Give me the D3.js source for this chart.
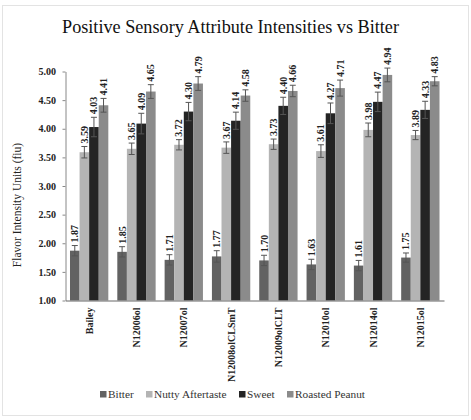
<!DOCTYPE html>
<html><head><meta charset="utf-8">
<script src="https://cdn.jsdelivr.net/npm/d3@7"></script>
<style>
html,body{margin:0;padding:0;background:#fff;}
svg{display:block;}
svg text{font-family:"Liberation Serif","Times New Roman",Times,"DejaVu Serif",serif;}
</style>
</head><body>
<svg id="chart" width="471" height="420"></svg>
<script>
const categories = ["Bailey","N12006ol","N12007ol","N12008olCLSmT","N12009olCLT","N12010ol","N12014ol","N12015ol"];
const seriesNames = ["Bitter","Nutty Aftertaste","Sweet","Roasted Peanut"];
const bitter  = [1.87,1.85,1.71,1.77,1.70,1.63,1.61,1.75];
const nutty   = [3.59,3.65,3.72,3.67,3.73,3.61,3.98,3.89];
const sweet   = [4.03,4.09,4.30,4.14,4.40,4.27,4.47,4.33];
const roasted = [4.41,4.65,4.79,4.58,4.66,4.71,4.94,4.83];
const bitterErr  = [0.09,0.09,0.09,0.10,0.09,0.09,0.09,0.08];
const nuttyErr   = [0.10,0.10,0.09,0.10,0.09,0.11,0.12,0.08];
const sweetErr   = [0.17,0.18,0.16,0.15,0.15,0.18,0.17,0.15];
const roastedErr = [0.12,0.12,0.12,0.10,0.10,0.14,0.12,0.08];
const yTicks = [1.0,1.5,2.0,2.5,3.0,3.5,4.0,4.5,5.0];
const colors = ["#626262","#b4b4b4","#242424","#8b8b8b"];

const values = [bitter, nutty, sweet, roasted];
const errs = [bitterErr, nuttyErr, sweetErr, roastedErr];

const svg = d3.select("#chart");

// outer border
svg.append("rect").attr("x",2.5).attr("y",5.5).attr("width",466).attr("height",410)
  .attr("fill","#fff").attr("stroke","#e3e3e3").attr("stroke-width",1);

const mLeft = 65.5, mRight = 444, mTop = 71.5, mBottom = 300.5;

const x0 = d3.scaleBand().domain(categories).range([mLeft, mRight]).paddingInner(0.19).paddingOuter(0.095);
const x1 = d3.scaleBand().domain(seriesNames).range([0, x0.bandwidth()]);
const y = d3.scaleLinear().domain([1,5]).range([mBottom, mTop]);

// title
svg.append("text").attr("x",230.5).attr("y",33).attr("text-anchor","middle")
  .attr("font-size",18.2).attr("fill","#111")
  .text("Positive Sensory Attribute Intensities vs Bitter");

// y axis title
svg.append("text").attr("transform","translate(20.5,205) rotate(-90)").attr("text-anchor","middle")
  .attr("font-size",11.5).attr("fill","#222")
  .text("Flavor Intensity Units (fiu)");

// bars
const data = [];
categories.forEach((c,i)=>seriesNames.forEach((s,j)=>data.push({c,s,j,v:values[j][i],e:errs[j][i]})));

const g = svg.append("g");
g.selectAll("rect.bar").data(data).join("rect").attr("class","bar")
  .attr("x",d=>x0(d.c)+x1(d.s)).attr("width",x1.bandwidth())
  .attr("y",d=>y(d.v)).attr("height",d=>y(1)-y(d.v))
  .attr("fill",d=>colors[d.j]);

// error bars
const cx = d=>x0(d.c)+x1(d.s)+x1.bandwidth()/2;
const eg = g.selectAll("g.err").data(data).join("g").attr("class","err")
  .attr("stroke","#555").attr("stroke-width",1);
eg.append("line").attr("x1",cx).attr("x2",cx)
  .attr("y1",d=>y(d.v-d.e)).attr("y2",d=>y(d.v+d.e));
eg.append("line").attr("x1",d=>cx(d)-3).attr("x2",d=>cx(d)+3)
  .attr("y1",d=>y(d.v+d.e)).attr("y2",d=>y(d.v+d.e));
eg.append("line").attr("x1",d=>cx(d)-3).attr("x2",d=>cx(d)+3)
  .attr("y1",d=>y(d.v-d.e)).attr("y2",d=>y(d.v-d.e));

// value labels
g.selectAll("text.val").data(data).join("text").attr("class","val")
  .attr("transform",d=>`translate(${cx(d)+3.5},${y(d.v+d.e)-3}) rotate(-90)`)
  .attr("font-size",10).attr("font-weight","bold").attr("fill","#222")
  .text(d=>d.v.toFixed(2));

// y axis
const yAxis = d3.axisLeft(y).tickValues(yTicks).tickFormat(d3.format(".2f")).tickSize(3).tickSizeOuter(0);
const ya = svg.append("g").attr("transform",`translate(${mLeft},0)`).call(yAxis);
ya.attr("font-family",null);
ya.select(".domain").attr("stroke","#888");
ya.selectAll(".tick line").attr("stroke","#888");
ya.selectAll(".tick text").attr("font-size",10).attr("font-weight","bold").attr("fill","#222").attr("x",-9.5);

// x axis
const xAxis = d3.axisBottom(x0).tickSize(0).tickSizeOuter(0);
const xa = svg.append("g").attr("transform",`translate(0,${mBottom})`).call(xAxis);
xa.attr("font-family",null);
xa.select(".domain").attr("stroke","#666");
xa.selectAll(".tick text").attr("font-size",10).attr("font-weight","bold").attr("fill","#222")
  .attr("transform","rotate(-90)").attr("text-anchor","end").attr("x",-7).attr("y",0).attr("dy","0.35em");

// legend
const legX = [100,146,239,287];
const lg = svg.append("g");
seriesNames.forEach((s,j)=>{
  lg.append("rect").attr("x",legX[j]).attr("y",391).attr("width",6.5).attr("height",6.5).attr("fill",colors[j]);
  lg.append("text").attr("x",legX[j]+8).attr("y",398).attr("font-size",11.3).attr("fill","#333").text(s);
});
</script>
</body></html>
